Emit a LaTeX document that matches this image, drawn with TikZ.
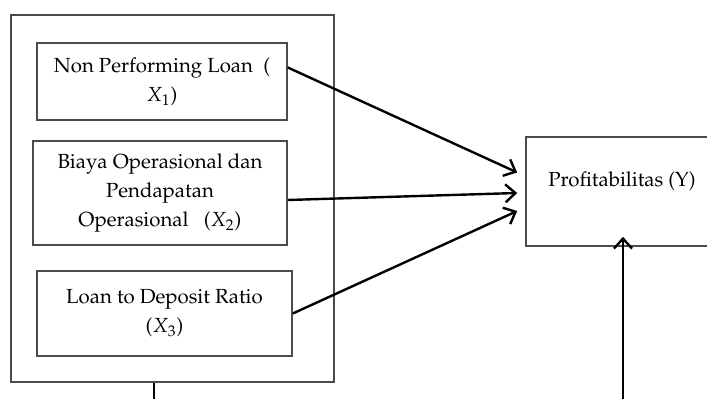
\documentclass[tikz,border=0pt]{standalone}
\usepackage[T1]{fontenc}
\usepackage{mathpazo}
\usetikzlibrary{arrows.meta, positioning, calc}
\tikzset{
  var/.style = {draw=black!70, fill=white, text=black, align=center,
    inner sep=2pt, line width=0.8pt, font=\fontsize{10.2}{14.5}\selectfont},
  grp/.style = {draw=black!70, line width=0.8pt, inner sep=0pt},
  seta/.style = {-{Straight Barb[length=5pt, width=9pt]}, line width=1.2pt},
  lp/.style = {line width=1.2pt}
}

\begin{document}
\begin{tikzpicture}[x=0.5pt, y=-0.5pt]
  \useasboundingbox (0,0) rectangle (707,399);
  \clip (0,0) rectangle (707,399);
  \node [grp, minimum width=161.5pt, minimum height=183.5pt] (grp) at (172.5,198.5) {};
  \node [var, minimum width=125pt, minimum height=38.5pt] (npl) at (162,81.5)
    {Non Performing Loan \ (\\ $X_1$)};
  \node [var, minimum width=127pt, minimum height=52pt] (bopo) at (160,193)
    {Biaya Operasional dan\\ Pendapatan\\ Operasional \ \ ($X_2$)};
  \node [var, minimum width=127.5pt, minimum height=42.5pt] (ldr) at (164.5,313.5)
    {Loan to Deposit Ratio\\ ($X_3$)};
  \node [var, minimum width=96pt, minimum height=54.5pt, text depth=12pt] (y) at (622,191.5)
    {Profitabilitas (Y)};
  \coordinate (gbot) at (154,405);
  \coordinate (ybot) at (623,405);
  \draw [seta] ($(npl.east)+(0,-14)$) -- ($(y.west)+(-8,-19)$);
  \draw [seta] ($(bopo.east)+(0,7)$) -- ($(y.west)+(-8,1.5)$);
  \draw [seta] (ldr.east) -- ($(y.west)+(-8,19.5)$);
  \draw [seta] (ybot) -- ($(y.south)+(1,-10)$);
  \draw [lp] ($(grp.south)+(-18.5,0)$) -- (gbot);
\end{tikzpicture}
\end{document}
